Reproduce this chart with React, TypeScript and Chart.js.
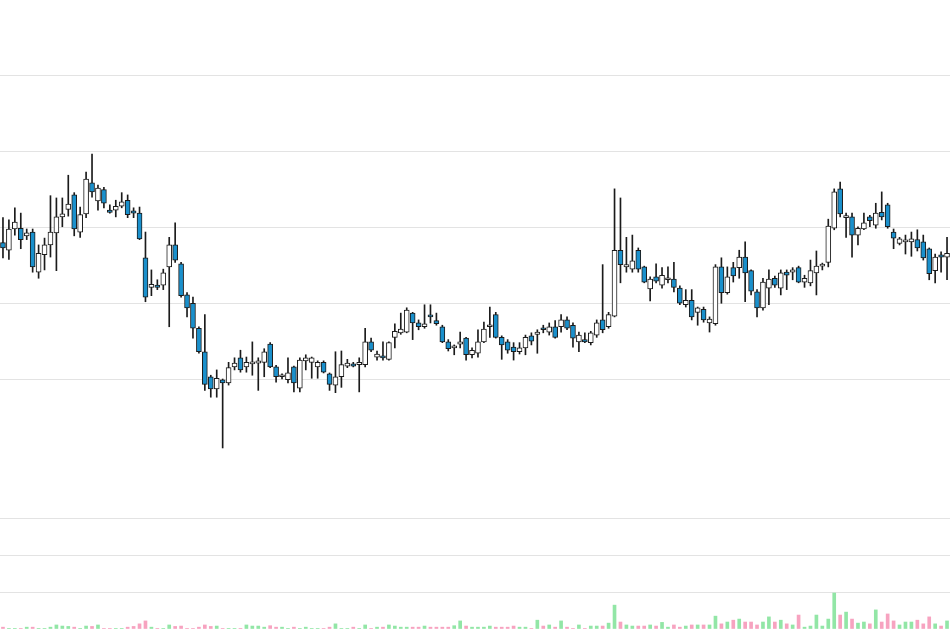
import React, { useEffect, useRef } from "react";
import { Chart, registerables } from "chart.js";

Chart.register(...registerables);

// OHLC prices, one entry per candle
const opens = [
  118.0, 117.0, 119.8, 119.9, 118.9, 119.4, 114.1, 116.4, 117.7, 119.3,
  121.4, 122.4, 124.3, 119.4, 121.8, 125.9, 123.5, 125.0, 122.3, 122.3,
  122.8, 123.6, 122.2, 121.9, 116.0, 112.1, 112.4, 112.4, 114.8, 117.7,
  115.2, 111.1, 110.0, 106.7, 103.6, 100.3, 98.7, 99.9, 99.5, 101.6,
  102.8, 101.6, 102.0, 102.1, 102.2, 104.6, 101.6, 100.3, 99.9, 101.6,
  98.8, 102.4, 102.2, 101.6, 102.2, 100.7, 99.2, 100.3, 101.7, 102.0,
  101.9, 101.9, 104.9, 102.9, 103.0, 102.6, 105.5, 106.1, 106.2, 108.7,
  107.4, 106.9, 108.3, 107.7, 106.9, 104.9, 104.1, 104.6, 105.4, 103.2,
  103.4, 104.9, 106.9, 108.5, 105.5, 104.9, 104.2, 103.6, 104.1, 105.7,
  105.9, 106.7, 106.2, 106.9, 106.9, 107.8, 107.1, 104.9, 105.2, 104.8,
  105.8, 107.8, 106.9, 108.3, 117.0, 114.8, 114.5, 117.0, 114.8, 111.9,
  113.5, 112.4, 113.1, 113.2, 112.0, 109.8, 110.4, 108.8, 109.2, 107.4,
  107.3, 114.8, 111.4, 114.7, 114.7, 116.1, 114.3, 111.5, 109.4, 112.0,
  113.3, 112.0, 114.1, 114.1, 114.7, 112.8, 112.7, 114.0, 114.9, 115.4,
  119.9, 125.1, 121.3, 121.4, 119.0, 119.8, 121.4, 120.3, 122.0, 123.0,
  119.4, 117.9, 118.1, 118.1, 118.4, 118.1, 117.2, 114.3, 116.4, 116.1,
];
const highs = [
  121.3, 121.0, 122.6, 121.9, 119.8, 119.8, 117.7, 118.6, 124.2, 123.9,
  123.9, 126.9, 124.6, 122.7, 127.3, 129.7, 125.6, 125.3, 123.0, 123.6,
  124.6, 124.3, 122.6, 122.7, 119.4, 114.4, 113.1, 114.5, 118.7, 120.6,
  115.4, 111.4, 110.8, 106.9, 108.5, 100.5, 101.2, 100.0, 102.2, 102.8,
  103.8, 102.9, 104.9, 102.8, 104.0, 104.8, 101.8, 100.7, 102.8, 101.7,
  102.8, 103.2, 102.9, 102.4, 102.4, 100.8, 103.6, 103.7, 102.6, 102.2,
  102.8, 106.7, 105.4, 103.7, 104.9, 104.9, 107.3, 108.7, 109.4, 108.8,
  107.8, 109.8, 109.8, 108.7, 107.1, 105.2, 104.5, 106.2, 105.5, 104.1,
  106.5, 107.5, 109.5, 108.8, 105.7, 105.2, 104.8, 104.8, 105.8, 106.1,
  106.5, 107.1, 107.4, 107.7, 108.5, 108.2, 107.4, 106.2, 106.1, 106.3,
  107.8, 115.1, 108.8, 125.1, 123.9, 118.7, 119.0, 117.3, 114.9, 113.5,
  115.2, 114.7, 114.8, 115.4, 112.3, 111.8, 111.8, 109.5, 109.5, 108.2,
  115.1, 116.0, 114.8, 115.4, 117.0, 118.1, 114.4, 111.8, 113.3, 114.4,
  113.6, 114.4, 114.4, 114.7, 114.9, 113.7, 115.7, 116.9, 115.3, 121.1,
  125.1, 126.0, 121.9, 121.9, 120.1, 121.9, 121.6, 123.2, 124.7, 123.2,
  119.8, 118.7, 119.0, 119.4, 119.7, 119.0, 117.3, 116.5, 116.8, 118.7,
];
const lows = [
  116.0, 115.8, 119.0, 117.2, 118.4, 114.1, 113.3, 114.4, 116.1, 114.3,
  120.1, 121.5, 118.9, 118.7, 121.3, 124.0, 122.3, 122.6, 121.9, 121.4,
  122.6, 121.3, 121.3, 118.4, 110.2, 111.0, 111.8, 111.8, 106.9, 115.4,
  110.8, 108.2, 105.4, 103.4, 98.5, 97.6, 97.6, 90.9, 99.2, 101.2,
  100.9, 100.9, 100.5, 98.5, 100.3, 101.5, 99.6, 100.0, 99.5, 98.3,
  98.3, 101.2, 100.1, 100.1, 100.8, 98.5, 98.2, 98.9, 101.5, 101.6,
  98.3, 101.6, 103.6, 102.5, 102.5, 102.5, 104.1, 105.9, 106.1, 105.2,
  106.5, 106.7, 107.4, 107.1, 104.8, 103.7, 103.2, 104.1, 102.5, 102.8,
  102.9, 104.8, 105.5, 105.4, 102.6, 103.4, 102.5, 103.3, 103.2, 104.5,
  103.4, 106.1, 105.8, 105.4, 106.2, 106.5, 104.2, 103.6, 104.8, 104.5,
  105.5, 106.1, 106.7, 108.2, 112.7, 114.1, 114.1, 114.1, 112.7, 110.3,
  112.7, 112.0, 112.7, 111.5, 109.8, 109.5, 107.8, 107.1, 107.5, 106.2,
  107.1, 110.0, 111.2, 112.8, 113.3, 110.2, 111.1, 108.2, 109.1, 109.8,
  112.1, 111.1, 111.8, 113.1, 112.7, 112.1, 112.3, 111.1, 114.4, 114.8,
  119.7, 121.4, 118.7, 116.1, 117.7, 119.7, 120.1, 119.9, 121.0, 119.9,
  117.2, 117.7, 116.5, 116.2, 116.9, 115.7, 113.1, 112.7, 114.1, 113.1,
];
const closes = [
  117.3, 119.8, 120.7, 118.4, 119.3, 114.8, 116.6, 117.7, 119.4, 121.4,
  121.8, 123.1, 119.8, 121.7, 126.4, 124.7, 125.2, 123.2, 122.0, 122.8,
  123.4, 121.7, 121.9, 118.5, 110.8, 112.5, 112.1, 114.0, 117.7, 115.7,
  111.0, 109.4, 106.7, 103.6, 99.3, 98.7, 100.1, 99.5, 101.5, 102.1,
  101.2, 102.2, 102.2, 102.4, 103.6, 101.6, 100.3, 100.4, 100.8, 99.5,
  102.5, 102.8, 102.8, 102.2, 100.9, 99.3, 100.3, 101.9, 102.1, 101.7,
  102.2, 104.9, 103.8, 103.3, 102.8, 104.8, 106.3, 106.6, 109.1, 107.4,
  106.9, 107.3, 108.2, 107.3, 104.9, 104.0, 104.2, 104.9, 103.2, 103.8,
  104.9, 106.6, 107.1, 105.5, 104.5, 103.8, 103.6, 104.1, 105.5, 105.0,
  106.2, 106.5, 106.9, 105.5, 107.8, 106.7, 105.4, 105.8, 104.9, 106.1,
  107.4, 106.5, 108.5, 117.0, 115.1, 115.1, 115.6, 114.5, 112.8, 113.2,
  112.9, 113.7, 113.2, 112.1, 110.0, 110.4, 108.2, 109.4, 107.8, 107.9,
  114.8, 111.4, 113.5, 113.6, 116.1, 114.0, 111.6, 109.4, 112.8, 113.2,
  112.4, 114.0, 113.7, 114.4, 112.8, 113.3, 114.3, 114.9, 115.1, 120.2,
  124.7, 121.8, 121.4, 119.0, 119.9, 120.6, 120.9, 121.9, 121.4, 120.1,
  118.6, 118.5, 118.2, 118.5, 117.3, 116.0, 113.9, 116.1, 116.1, 116.6,
];
const volumes = [
  5, 1, 1, 1, 5, 5, 1, 1, 5, 11,
  8, 7, 5, 1, 8, 7, 11, 1, 1, 1,
  1, 5, 7, 14, 22, 5, 1, 1, 11, 7,
  8, 1, 1, 5, 11, 7, 8, 1, 1, 1,
  1, 11, 8, 8, 5, 9, 5, 5, 1, 5,
  1, 5, 1, 1, 1, 5, 14, 1, 1, 5,
  1, 11, 1, 5, 5, 11, 8, 5, 5, 5,
  5, 8, 5, 5, 5, 5, 9, 22, 8, 5,
  5, 5, 8, 5, 5, 5, 8, 5, 5, 1,
  24, 8, 11, 5, 22, 5, 1, 11, 1, 8,
  8, 8, 16, 65, 19, 11, 8, 8, 8, 11,
  8, 18, 5, 11, 5, 8, 11, 11, 11, 11,
  35, 14, 19, 24, 27, 19, 19, 11, 19, 33,
  19, 24, 14, 11, 38, 5, 8, 38, 8, 27,
  98, 38, 46, 27, 16, 19, 14, 52, 19, 41,
  22, 11, 19, 19, 24, 14, 33, 14, 8, 22,
];
const labels = opens.map((_, i) => String(i + 1));

const UP_FILL = "#ffffff";
const DOWN_FILL = "#1a90cc";
const EDGE = "#1b1b1b";
const VOL_UP = "#92e6a6";
const VOL_DOWN = "#f7a3c0";
const GRID = "#e3e3e3";

const App: React.FC = () => {
  const priceRef = useRef<HTMLCanvasElement | null>(null);
  const volRef = useRef<HTMLCanvasElement | null>(null);

  useEffect(() => {
    if (!priceRef.current || !volRef.current) return;
    const pctx = priceRef.current.getContext("2d");
    const vctx = volRef.current.getContext("2d");
    if (!pctx || !vctx) return;

    const isUp = opens.map((o, i) => closes[i] >= o);

    const hiddenX = { display: false, offset: true } as any;

    const price = new Chart(pctx, {
      type: "bar",
      data: {
        labels,
        datasets: [
          {
            // wicks
            data: lows.map((l, i) => [l, highs[i]]) as any,
            backgroundColor: EDGE,
            barThickness: 1,
            grouped: false,
            order: 2,
          },
          {
            // bodies
            data: opens.map((o, i) => [o, closes[i]]) as any,
            backgroundColor: isUp.map((u) => (u ? UP_FILL : DOWN_FILL)),
            borderColor: EDGE,
            borderWidth: 1,
            borderSkipped: false,
            barThickness: 5,
            minBarLength: 2,
            grouped: false,
            order: 1,
          },
        ],
      },
      options: {
        animation: false,
        responsive: false,
        events: [],
        layout: { padding: 0 },
        plugins: { legend: { display: false }, tooltip: { enabled: false } },
        scales: {
          x: hiddenX,
          y: {
            min: 90.63,
            max: 150.03,
            ticks: { display: false, stepSize: 10, includeBounds: false },
            border: { display: false },
            grid: {
              drawTicks: false,
              color: (c: any) =>
                c.tick && c.tick.value >= 100 && c.tick.value <= 140
                  ? GRID
                  : "transparent",
            },
          },
        },
      },
    });

    const volume = new Chart(vctx, {
      type: "bar",
      data: {
        labels,
        datasets: [
          {
            data: volumes,
            backgroundColor: isUp.map((u) => (u ? VOL_UP : VOL_DOWN)),
            barThickness: 3,
          },
        ],
      },
      options: {
        animation: false,
        responsive: false,
        events: [],
        layout: { padding: 0 },
        plugins: { legend: { display: false }, tooltip: { enabled: false } },
        scales: {
          x: hiddenX,
          y: {
            min: 0,
            max: 482,
            ticks: { display: false, stepSize: 100, includeBounds: false },
            border: { display: false },
            grid: {
              drawTicks: false,
              color: (c: any) =>
                c.tick && c.tick.value <= 300 ? GRID : "transparent",
            },
          },
        },
      },
    });

    return () => {
      price.destroy();
      volume.destroy();
    };
  }, []);

  return (
    <div
      style={{
        position: "absolute",
        left: 0,
        top: 0,
        width: "950px",
        height: "630px",
        background: "#fff",
      }}
    >
      <canvas
        ref={priceRef}
        width={950}
        height={450}
        style={{ position: "absolute", left: 0, top: 0 }}
      ></canvas>
      <canvas
        ref={volRef}
        width={950}
        height={177}
        style={{ position: "absolute", left: 0, top: "452px" }}
      ></canvas>
    </div>
  );
};

export default App;
